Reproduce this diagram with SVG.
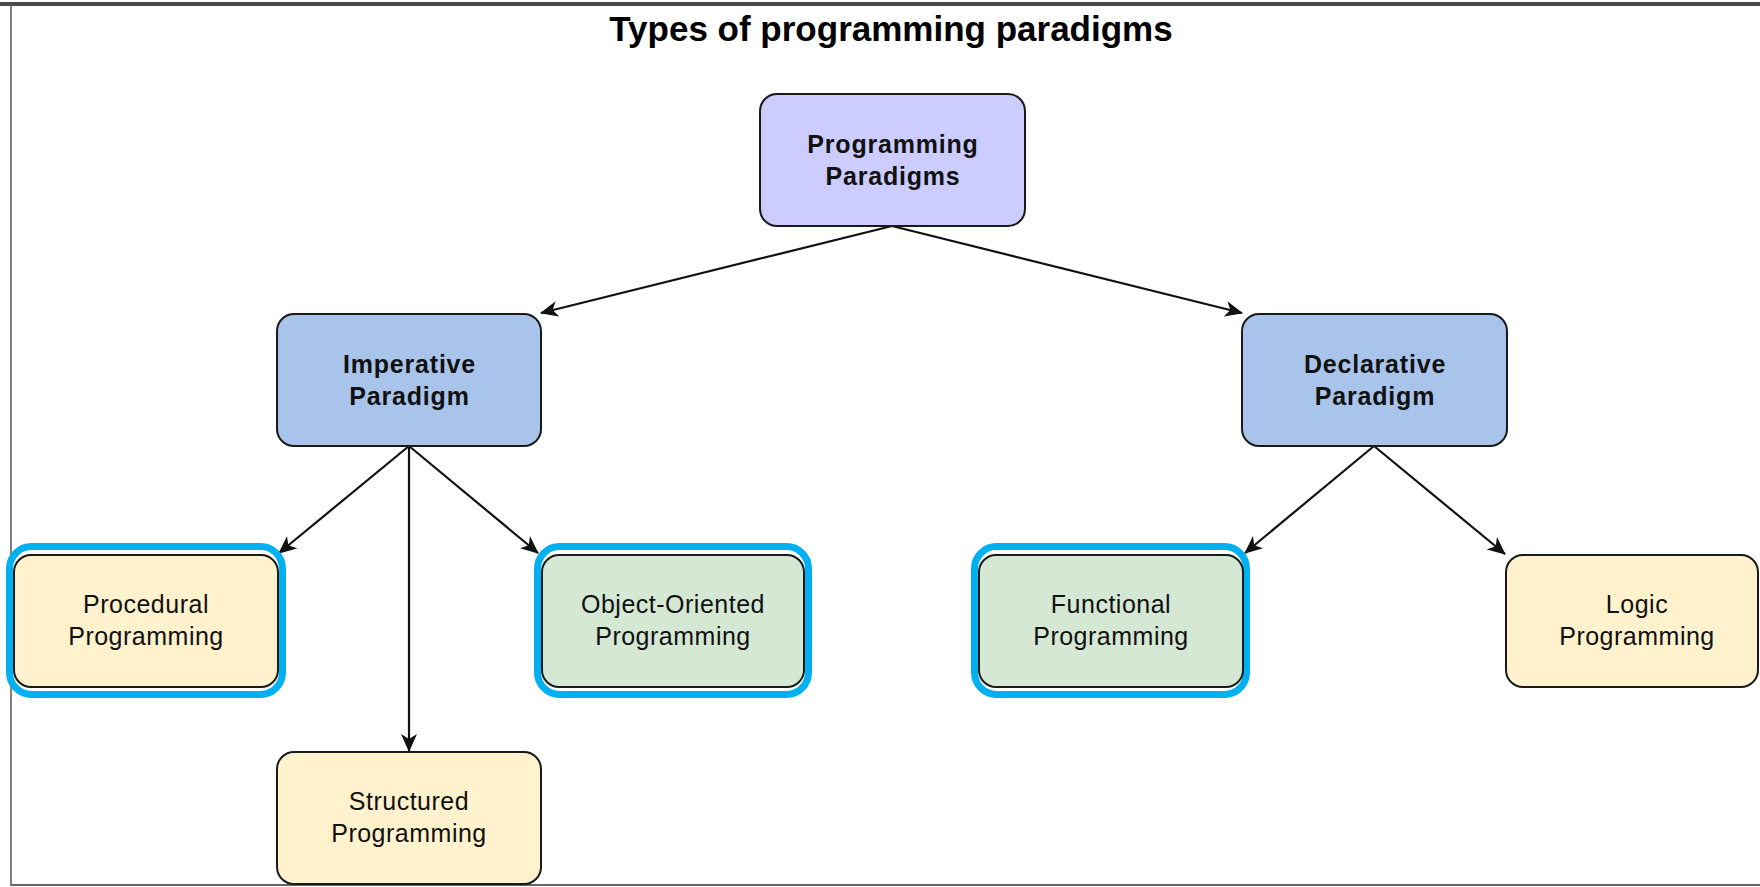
<svg xmlns="http://www.w3.org/2000/svg" width="1760" height="887" viewBox="0 0 1760 887">
  <style>
    .box { stroke: #1a1a1a; stroke-width: 2; }
    .top { fill: #ccccff; }
    .par { fill: #a9c4eb; }
    .yel { fill: #fff2cc; }
    .grn { fill: #d5e8d4; }
    .ring { fill: none; stroke: #00b0f0; stroke-width: 7; }
    .b { font-family: "Liberation Sans", Arial, sans-serif; font-weight: bold; font-size: 25px; fill: #111; text-anchor: middle; letter-spacing: 0.8px; }
    .t { font-family: "Liberation Sans", Arial, sans-serif; font-size: 25px; fill: #111; text-anchor: middle; letter-spacing: 0.5px; }
    .title { font-family: "Liberation Sans", Arial, sans-serif; font-weight: bold; font-size: 35px; fill: #000; text-anchor: middle; }
    .edge { stroke: #111; stroke-width: 2.2; fill: none; marker-end: url(#arr); }
  </style>
  <defs>
    <marker id="arr" markerUnits="userSpaceOnUse" viewBox="0 0 18 16" refX="17" refY="8" markerWidth="18" markerHeight="16" orient="auto">
      <path d="M0,0 L18,8 L0,16 L5,8 Z" fill="#111"/>
    </marker>
  </defs>
  <rect width="1760" height="887" fill="#ffffff"/>
  <g id="frame">
    <rect x="0" y="2" width="1760" height="4" fill="#4a4a4a"/>
    <line x1="11" y1="4" x2="11" y2="886" stroke="#555" stroke-width="1.5"/>
    <line x1="11" y1="885" x2="1760" y2="885" stroke="#666" stroke-width="2"/>
  </g>
  <text id="title" class="title" x="891" y="41">Types of programming paradigms</text>

  <g id="connectors">
    <line class="edge" x1="892" y1="226" x2="541" y2="313"/>
    <line class="edge" x1="892" y1="226" x2="1242" y2="313"/>
    <line class="edge" x1="409" y1="446" x2="279" y2="553"/>
    <line class="edge" x1="409" y1="446" x2="409" y2="751"/>
    <line class="edge" x1="409" y1="446" x2="538" y2="553"/>
    <line class="edge" x1="1374" y1="446" x2="1245" y2="553"/>
    <line class="edge" x1="1374" y1="446" x2="1505" y2="554"/>
  </g>

  <g id="programming-paradigms">
    <rect class="box top" x="760" y="94" width="265" height="132" rx="17"/>
    <text class="b" x="893" y="153">Programming</text>
    <text class="b" x="893" y="185">Paradigms</text>
  </g>
  <g id="imperative">
    <rect class="box par" x="277" y="314" width="264" height="132" rx="17"/>
    <text class="b" x="409.5" y="373">Imperative</text>
    <text class="b" x="409.5" y="405">Paradigm</text>
  </g>
  <g id="declarative">
    <rect class="box par" x="1242" y="314" width="265" height="132" rx="17"/>
    <text class="b" x="1375" y="373">Declarative</text>
    <text class="b" x="1375" y="405">Paradigm</text>
  </g>
  <g id="procedural">
    <rect class="ring" x="9.5" y="546.5" width="273" height="148" rx="22"/>
    <rect class="box yel" x="14" y="555" width="264" height="132" rx="17"/>
    <text class="t" x="146" y="613">Procedural</text>
    <text class="t" x="146" y="645">Programming</text>
  </g>
  <g id="object-oriented">
    <rect class="ring" x="537.5" y="546.5" width="271" height="148" rx="22"/>
    <rect class="box grn" x="542" y="555" width="262" height="132" rx="17"/>
    <text class="t" x="673" y="613">Object-Oriented</text>
    <text class="t" x="673" y="645">Programming</text>
  </g>
  <g id="structured">
    <rect class="box yel" x="277" y="752" width="264" height="132" rx="17"/>
    <text class="t" x="409" y="810">Structured</text>
    <text class="t" x="409" y="842">Programming</text>
  </g>
  <g id="functional">
    <rect class="ring" x="974.5" y="546.5" width="272" height="148" rx="22"/>
    <rect class="box grn" x="979" y="555" width="264" height="132" rx="17"/>
    <text class="t" x="1111" y="613">Functional</text>
    <text class="t" x="1111" y="645">Programming</text>
  </g>
  <g id="logic">
    <rect class="box yel" x="1506" y="555" width="252" height="132" rx="17"/>
    <text class="t" x="1637" y="613">Logic</text>
    <text class="t" x="1637" y="645">Programming</text>
  </g>
</svg>
